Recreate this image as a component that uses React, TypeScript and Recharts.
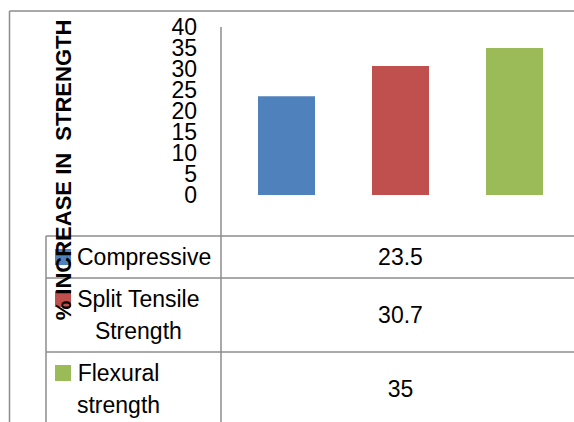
import { BarChart, Bar, XAxis, YAxis } from 'recharts';

// one (unnamed) category, three series shown side by side
const categories = [''];
const seriesNames = ['Compressive', 'Split Tensile Strength', 'Flexural strength'];
const seriesValues = [23.5, 30.7, 35];
const seriesColors = ['#4f81bd', '#c0504d', '#9bbb59'];
// how the series names wrap inside the data table
const tableLabelLines = [['Compressive'], ['Split Tensile', 'Strength'], ['Flexural', 'strength']];
const yTicks = [0, 5, 10, 15, 20, 25, 30, 35, 40];
const yAxisTitle = '% INCREASE IN  STRENGTH';

const FONT = '"Liberation Sans", Arial, sans-serif';
const LINE = '#8c8c8c';

const W = 574;
const H = 422;
const CHART_W = 580;
const AXIS_X = 221;
const PLOT_TOP = 27;
const PLOT_BOTTOM = 195;
const TABLE_TOP = 236;
const TABLE_LEFT = 46;
const LINE_H = 32;

const data = categories.map((name) => {
  const row: Record<string, any> = { name };
  seriesValues.forEach((v, i) => {
    row[`s${i}`] = v;
  });
  return row;
});

const measure = (() => {
  const ctx = document.createElement('canvas').getContext('2d');
  return (s: string) => {
    if (!ctx) return s.length * 11;
    ctx.font = `23px ${FONT}`;
    return ctx.measureText(s).width;
  };
})();

const App = () => {
  // row tops of the data table
  const rowTops: number[] = [];
  let y = TABLE_TOP;
  tableLabelLines.forEach((lines) => {
    rowTops.push(y);
    y += 10 + LINE_H * lines.length;
  });
  const valueX = (AXIS_X + CHART_W) / 2;

  return (
    <div style={{ position: 'absolute', left: 0, top: 0, width: W, height: H, overflow: 'hidden', background: '#fff' }}>
      <BarChart
        width={CHART_W}
        height={H}
        data={data}
        margin={{ top: PLOT_TOP, right: 0, left: 0, bottom: H - PLOT_BOTTOM }}
        barSize={57}
        barGap={57}
      >
        <XAxis dataKey="name" height={0} tick={false} tickLine={false} axisLine={{ stroke: LINE, strokeWidth: 1.5 }} />
        <YAxis
          width={AXIS_X}
          domain={[0, 40]}
          ticks={yTicks}
          interval={0}
          tickLine={false}
          tickSize={0}
          tickMargin={24}
          axisLine={{ stroke: LINE, strokeWidth: 1.5 }}
          tick={{ fontSize: 23, fill: '#000', fontFamily: FONT }}
        />
        {seriesNames.map((n, i) => (
          <Bar key={n} name={n} dataKey={`s${i}`} fill={seriesColors[i]} isAnimationActive={false} />
        ))}
      </BarChart>

      {/* chart frame, data table and axis title */}
      <svg width={W} height={H} style={{ position: 'absolute', left: 0, top: 0, pointerEvents: 'none' }}>
        <line x1={9.5} y1={11} x2={W} y2={11} stroke={LINE} strokeWidth={1.5} />
        <line x1={9.5} y1={11} x2={9.5} y2={H} stroke={LINE} strokeWidth={1.5} />
        <line x1={AXIS_X} y1={PLOT_BOTTOM} x2={AXIS_X} y2={H} stroke={LINE} strokeWidth={1.5} />
        <line x1={TABLE_LEFT} y1={TABLE_TOP} x2={TABLE_LEFT} y2={H} stroke={LINE} strokeWidth={1.5} />
        {rowTops.map((t, i) => (
          <line key={`rl${i}`} x1={TABLE_LEFT} y1={t} x2={W} y2={t} stroke={LINE} strokeWidth={1.5} />
        ))}
        {tableLabelLines.map((lines, i) => {
          const top = rowTops[i];
          const blockW = Math.max(...lines.map(measure));
          const cx = 77 + blockW / 2;
          const rowH = 10 + LINE_H * lines.length;
          return (
            <g key={`row${i}`}>
              <rect x={55} y={top + 21 - 8} width={16} height={16} fill={seriesColors[i]} />
              {lines.map((ln, j) => (
                <text
                  key={j}
                  x={cx}
                  y={top + 21 + LINE_H * j}
                  textAnchor="middle"
                  dominantBaseline="central"
                  fontSize={23}
                  fontFamily={FONT}
                  fill="#000"
                >
                  {ln}
                </text>
              ))}
              <text
                x={valueX}
                y={top + rowH / 2}
                textAnchor="middle"
                dominantBaseline="central"
                fontSize={23}
                fontFamily={FONT}
                fill="#000"
              >
                {seriesValues[i]}
              </text>
            </g>
          );
        })}
        <text
          x={63}
          y={170}
          transform="rotate(-90 63 170)"
          textAnchor="middle"
          dominantBaseline="central"
          fontSize={22}
          fontWeight="bold"
          fontFamily={FONT}
          fill="#000"
          xmlSpace="preserve"
          style={{ whiteSpace: 'pre' }}
        >
          {yAxisTitle}
        </text>
      </svg>
    </div>
  );
};

export default App;
